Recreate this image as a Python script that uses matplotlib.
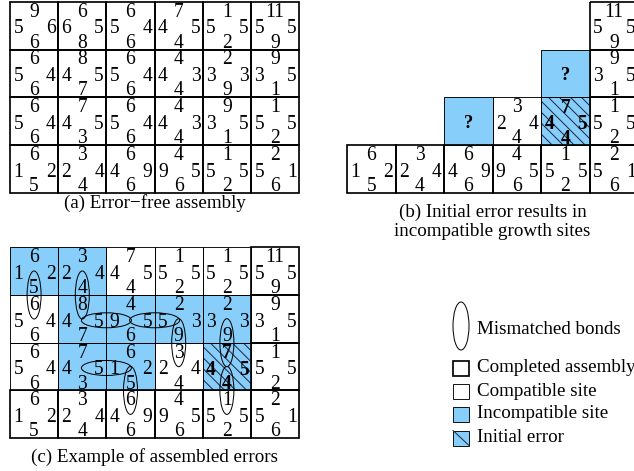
import numpy as np
import matplotlib.pyplot as plt
from matplotlib.patches import Rectangle, Ellipse

plt.rcParams['font.family'] = ['Liberation Serif', 'DejaVu Serif']

## tile labels as (north, east, south, west)
a_tiles = [
    [(9, 6, 6, 5), (6, 5, 8, 6), (6, 4, 6, 5), (7, 5, 4, 4), (1, 5, 2, 5), (11, 5, 9, 5)],
    [(6, 4, 6, 5), (8, 5, 7, 4), (6, 4, 6, 5), (4, 3, 4, 4), (2, 3, 9, 3), (9, 5, 1, 3)],
    [(6, 4, 6, 5), (7, 5, 3, 4), (6, 4, 6, 5), (4, 3, 4, 4), (9, 5, 1, 3), (1, 5, 2, 5)],
    [(6, 2, 5, 1), (3, 4, 4, 2), (6, 9, 6, 4), (4, 5, 6, 9), (1, 5, 2, 5), (2, 1, 6, 5)],
]

## panel (b): (row, col, labels, kind)
b_tiles = [(3, c, a_tiles[3][c], 'done') for c in range(6)] + [
    (0, 5, (11, 5, 9, 5), 'done'),
    (1, 5, (9, 5, 1, 3), 'done'),
    (2, 5, (1, 5, 2, 5), 'done'),
    (2, 3, (3, 4, 4, 2), 'ok'),
    (2, 4, (7, 5, 4, 4), 'err'),
    (2, 2, None, 'q'),
    (1, 4, None, 'q'),
]

c_tiles = [
    [(6, 2, 5, 1), (3, 4, 4, 2), (7, 5, 4, 4), (1, 5, 2, 5), (1, 5, 2, 5), (11, 5, 9, 5)],
    [(6, 4, 6, 5), (8, 5, 7, 4), (4, 5, 6, 9), (2, 3, 9, 5), (2, 3, 9, 3), (9, 5, 1, 3)],
    [(6, 4, 6, 5), (7, 5, 3, 4), (6, 2, 5, 1), (3, 4, 4, 2), (7, 5, 4, 4), (1, 5, 2, 5)],
    [(6, 2, 5, 1), (3, 4, 4, 2), (6, 9, 6, 4), (4, 5, 6, 9), (1, 5, 2, 5), (2, 1, 6, 5)],
]
c_kind = [
    ['bad', 'bad', 'ok', 'ok', 'ok', 'done'],
    ['ok', 'bad', 'bad', 'bad', 'bad', 'done'],
    ['ok', 'bad', 'bad', 'ok', 'err', 'done'],
    ['done'] * 6,
]
## mismatched bonds: vertical = between row r and r+1 at col c, horizontal = between col c and c+1 at row r
c_vert = [(0, 0), (0, 1), (1, 3), (1, 4), (2, 2), (2, 4)]
c_horz = [(1, 1), (1, 2), (2, 1)]

captions = ['(a) Error\u2212free assembly',
            '(b) Initial error results in\nincompatible growth sites',
            '(c) Example of assembled errors']
legend_labels = ['Mismatched bonds', 'Completed assembly', 'Compatible site',
                 'Incompatible site', 'Initial error']

BLUE = '#87CEFA'
HATCH = '#1c2a44'
FS = 19.5
TFS = 19
W, H = 48.2, 47.7

def hatch_lines(ax, x0, y0, w, h, clip, step=11):
    # "\" diagonals clipped to the cell
    for k in np.arange(x0 - y0 - h, x0 + w - y0 + step, step):
        ys = np.array([y0 - 5, y0 + h + 5])
        ln, = ax.plot(ys + k, ys, color=HATCH, lw=1.0, zorder=1.5)
        ln.set_clip_path(clip)

def draw_tile(ax, x0, y0, labels, kind, w=W, h=H):
    face = BLUE if kind in ('bad', 'err', 'q') else 'white'
    bg = Rectangle((x0, y0), w, h, facecolor=face, edgecolor='none', zorder=1)
    ax.add_patch(bg)
    if kind == 'err':
        hatch_lines(ax, x0, y0, w, h, bg, step=11)
    lw = 1.7 if kind == 'done' else 0.9
    ax.add_patch(Rectangle((x0, y0), w, h, facecolor='none', edgecolor='black',
                           lw=lw, zorder=3 if kind == 'done' else 2))
    if kind == 'q':
        ax.text(x0 + w / 2, y0 + h * 0.55, '?', ha='center', va='center',
                fontsize=FS - 1, fontweight='bold', zorder=4)
        return
    n, e, s, wl = labels
    fw = 'bold' if kind == 'err' else 'normal'
    kw = dict(ha='center', va='center', fontsize=FS, fontweight=fw, zorder=4)
    ax.text(x0 + w * 0.5, y0 + h * 0.22, str(n), **kw)
    ax.text(x0 + w * 0.5, y0 + h * 0.87, str(s), **kw)
    ax.text(x0 + w * 0.17, y0 + h * 0.57, str(wl), **kw)
    ax.text(x0 + w * 0.85, y0 + h * 0.57, str(e), **kw)

fig = plt.figure(figsize=(634 / 72, 471 / 72), dpi=72)
ax = fig.add_axes([0, 0, 1, 1])
ax.set_xlim(0, 634)
ax.set_ylim(471, 0)
ax.axis('off')

## panel (a)
ax0, ay0 = 10, 1.8
for r, row in enumerate(a_tiles):
    for c, lab in enumerate(row):
        draw_tile(ax, ax0 + c * W, ay0 + r * H, lab, 'done')
ax.text(ax0 + 3 * W, 203, captions[0], ha='center', va='center', fontsize=TFS)

## panel (b)
bx0, by0, bw = 347, 1.8, 48.5
order = {'ok': 0, 'q': 0, 'err': 0, 'done': 1}
for r, c, lab, kind in sorted(b_tiles, key=lambda t: order[t[3]]):
    draw_tile(ax, bx0 + c * bw, by0 + r * H, lab, kind, w=bw)
ax.text(bx0 + 3 * bw, 222, captions[1], ha='center', va='center', fontsize=TFS,
        linespacing=1.15)

## panel (c)
cx0, cy0 = 10, 247.3
cells = [(r, c) for r in range(4) for c in range(6)]
for r, c in sorted(cells, key=lambda t: c_kind[t[0]][t[1]] == 'done'):
    draw_tile(ax, cx0 + c * W, cy0 + r * H, c_tiles[r][c], c_kind[r][c])
for r, c in c_vert:
    ax.add_patch(Ellipse((cx0 + (c + 0.5) * W, cy0 + (r + 1) * H), 14, 48,
                         facecolor='none', edgecolor='black', lw=1.0, zorder=5))
for r, c in c_horz:
    ax.add_patch(Ellipse((cx0 + (c + 1) * W, cy0 + (r + 0.53) * H), 50, 15,
                         facecolor='none', edgecolor='black', lw=1.0, zorder=5))
ax.text(cx0 + 3 * W, 457, captions[2], ha='center', va='center', fontsize=TFS)

## legend
lx, tx = 453, 477
ax.add_patch(Ellipse((lx + 8, 326), 16, 48, facecolor='none', edgecolor='black', lw=1.0))
ax.text(tx, 330, legend_labels[0], ha='left', va='center', fontsize=TFS)
ly = [368, 391, 414, 438]
styles = [dict(facecolor='white', lw=1.7), dict(facecolor='white', lw=0.9),
          dict(facecolor=BLUE, lw=0.9), dict(facecolor=BLUE, lw=0.9)]
for i, (y, st) in enumerate(zip(ly, styles)):
    ax.add_patch(Rectangle((lx, y - 7.5), 16, 15, edgecolor='black', **st))
    if i == 3:
        ax.plot([lx, lx + 16], [y - 7.5, y + 7.5], color=HATCH, lw=1.0)
    ax.text(tx, y, legend_labels[i + 1], ha='left', va='center', fontsize=TFS)

fig.savefig('out.png', dpi=72)
